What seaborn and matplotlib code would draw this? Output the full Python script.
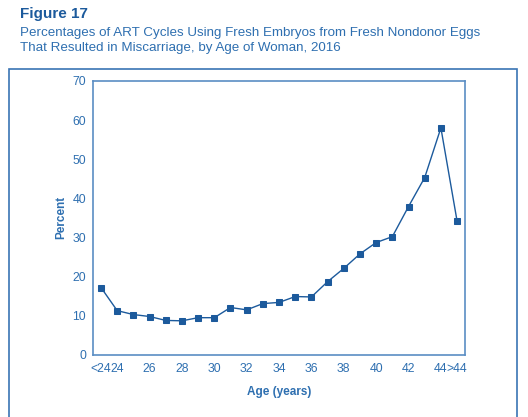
import matplotlib
matplotlib.use("Agg")
import matplotlib.pyplot as plt
import seaborn as sns
from matplotlib.patches import Rectangle

# Data
ages = ["<24"] + [str(a) for a in range(24, 45)] + [">44"]
percent = [17.2, 11.3, 10.3, 9.8, 8.8, 8.7, 9.5, 9.5, 12.1, 11.5,
           13.1, 13.4, 14.9, 14.8, 18.7, 22.1, 25.8, 28.7, 30.2, 37.9,
           45.3, 58.0, 34.2]
tick_labels = ["<24", "24", "", "26", "", "28", "", "30", "", "32", "",
               "34", "", "36", "", "38", "", "40", "", "42", "", "44", ">44"]
y_ticks = [0, 10, 20, 30, 40, 50, 60, 70]

dark_blue = "#1c5a9c"
mid_blue = "#2e6fb0"
axis_blue = "#5a8dc4"

sns.set_style("white")
plt.rcParams["font.family"] = ["Liberation Sans", "DejaVu Sans"]

fig = plt.figure(figsize=(5.28, 4.17), dpi=100)
ax = fig.add_axes([0.176, 0.149, 0.705, 0.657])

sns.pointplot(x=ages, y=percent, order=ages, errorbar=None, color=dark_blue,
              marker="s", markersize=5, linewidth=1.0, ax=ax)

ax.set_xlim(-0.5, len(ages) - 0.5)
ax.set_ylim(0, 70)
ax.set_yticks(y_ticks)
ax.set_xticks(range(len(ages)))
ax.set_xticklabels(tick_labels)

for s in ax.spines.values():
    s.set_color(axis_blue)
    s.set_linewidth(1.2)
    s.set_visible(True)

ax.tick_params(axis="both", direction="in", length=6, width=1, color=axis_blue,
               labelcolor=mid_blue, labelsize=8.8)
ax.tick_params(axis="y", pad=5)
ax.tick_params(axis="x", pad=6)

ax.set_xlabel("Age (years)", fontsize=8.5, fontweight="bold", color=mid_blue, labelpad=8)
ax.set_ylabel("Percent", fontsize=8.5, fontweight="bold", color=mid_blue, labelpad=4)

fig.text(0.038, 0.984, "Figure 17", fontsize=11, fontweight="heavy", color=dark_blue,
         va="top")
fig.text(0.038, 0.936, "Percentages of ART Cycles Using Fresh Embryos from Fresh Nondonor Eggs\n"
         "That Resulted in Miscarriage, by Age of Woman, 2016",
         fontsize=9.6, color=mid_blue, va="top", linespacing=1.4)

# outer frame
fig.patches.append(Rectangle((9 / 528, -0.02), 508 / 528, 1 - 69 / 417 + 0.02,
                             transform=fig.transFigure, fill=False,
                             edgecolor="#3a74b4", linewidth=1.2))

fig.savefig("out.png", dpi=100)
